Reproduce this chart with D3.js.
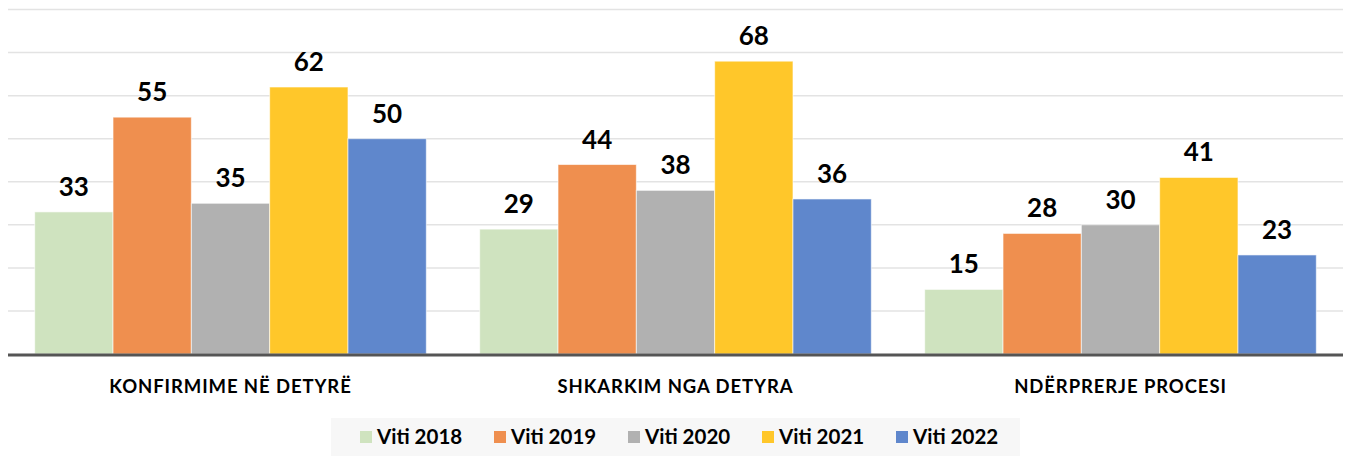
<!DOCTYPE html>
<html>
<head>
<meta charset="utf-8">
<script src="https://cdn.jsdelivr.net/npm/d3@7"></script>
<style>
  body { margin: 0; background: #fff; }
  text { font-family: Lato, "Open Sans", sans-serif; font-weight: bold; fill: #000; }
</style>
</head>
<body>
<script>
// categories and series
var categories = ["KONFIRMIME NË DETYRË", "SHKARKIM NGA DETYRA", "NDËRPRERJE PROCESI"];
var years = ["Viti 2018", "Viti 2019", "Viti 2020", "Viti 2021", "Viti 2022"];
var v2018 = [33, 29, 15];
var v2019 = [55, 44, 28];
var v2020 = [35, 38, 30];
var v2021 = [62, 68, 41];
var v2022 = [50, 36, 23];
var yTicks = [0, 10, 20, 30, 40, 50, 60, 70, 80];

var series = [v2018, v2019, v2020, v2021, v2022];
var colors = ["#cfe3bf", "#ef8f4f", "#b1b1b1", "#ffc72a", "#5f87cc"];

var w = 1346, h = 456;

var svg = d3.select("body").append("svg")
    .attr("width", w)
    .attr("height", h);

var x0 = d3.scaleBand()
    .domain(categories)
    .range([8, 1343])
    .paddingInner(0.12)
    .paddingOuter(0.06);

var x1 = d3.scaleBand()
    .domain(years)
    .range([0, x0.bandwidth()]);

var y = d3.scaleLinear()
    .domain([0, 80])
    .range([354, 9.5]);

var color = d3.scaleOrdinal().domain(years).range(colors);

// gridlines
svg.append("g")
    .selectAll("line")
    .data(yTicks.slice(1))
    .enter().append("line")
    .attr("x1", 8)
    .attr("x2", 1343)
    .attr("y1", function (d) { return y(d); })
    .attr("y2", function (d) { return y(d); })
    .style("stroke", "#e3e3e3")
    .style("stroke-width", 1.5);

var groups = svg.selectAll(".grp")
    .data(categories)
    .enter().append("g")
    .attr("class", "grp")
    .attr("transform", function (d) { return "translate(" + x0(d) + ",0)"; });

groups.selectAll("rect")
    .data(function (d, i) { return years.map(function (yr, j) { return { yr: yr, v: series[j][i] }; }); })
    .enter().append("rect")
    .attr("x", function (d) { return x1(d.yr); })
    .attr("y", function (d) { return y(d.v); })
    .attr("width", x1.bandwidth())
    .attr("height", function (d) { return y(0) - y(d.v); })
    .style("fill", function (d) { return color(d.yr); })
    .style("stroke", "#fff")
    .style("stroke-opacity", 0.6)
    .style("stroke-width", 1);

groups.selectAll(".val")
    .data(function (d, i) { return years.map(function (yr, j) { return { yr: yr, v: series[j][i] }; }); })
    .enter().append("text")
    .attr("class", "val")
    .attr("x", function (d) { return x1(d.yr) + x1.bandwidth() / 2; })
    .attr("y", function (d) { return y(d.v) - 16; })
    .attr("text-anchor", "middle")
    .style("font-size", "26px")
    .text(function (d) { return d.v; });

// category axis
var xAxis = d3.axisBottom(x0).tickSize(0).tickPadding(0);
var ax = svg.append("g")
    .attr("transform", "translate(0," + y(0) + ")")
    .call(xAxis);
ax.select(".domain").remove();
ax.selectAll("text")
    .attr("dy", 0)
    .attr("y", 39)
    .style("font-size", "18.5px")
    .style("letter-spacing", "0.9px")
    .style("font-family", "Lato, sans-serif")
    .style("font-weight", "bold")
    .style("fill", "#000");

svg.append("line")
    .attr("x1", 8)
    .attr("x2", 1343)
    .attr("y1", y(0) + 1)
    .attr("y2", y(0) + 1)
    .style("stroke", "#555")
    .style("stroke-width", 3);

// legend
svg.append("rect")
    .attr("x", 331)
    .attr("y", 418)
    .attr("width", 689)
    .attr("height", 38)
    .style("fill", "#f7f7f7");

var legend = svg.selectAll(".legend")
    .data(years)
    .enter().append("g")
    .attr("class", "legend")
    .attr("transform", function (d, i) { return "translate(" + (360 + i * 134) + ",431)"; });

legend.append("rect")
    .attr("width", 12)
    .attr("height", 12)
    .style("fill", color);

legend.append("text")
    .attr("x", 17)
    .attr("y", 13)
    .style("font-size", "20.5px")
    .text(function (d) { return d; });
</script>
</body>
</html>
